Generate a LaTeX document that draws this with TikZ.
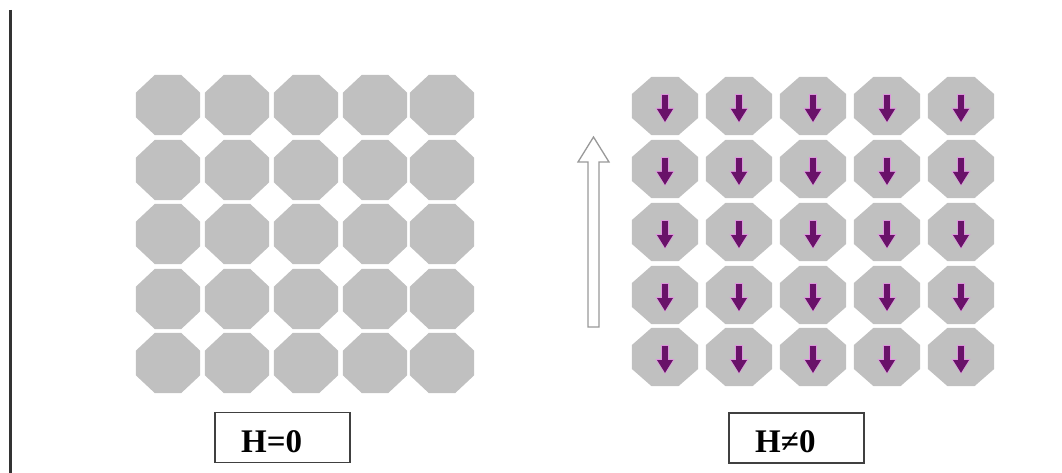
\documentclass[tikz,border=0pt]{standalone}
\usepackage{fontspec}
\setmainfont{Liberation Serif}
\usetikzlibrary{shapes.geometric,arrows.meta}
\definecolor{octgray}{RGB}{192,192,192}
\definecolor{spinpurple}{RGB}{105,18,105}
\definecolor{halocol}{RGB}{220,150,220}
\tikzset{
  oct/.style={regular polygon, regular polygon sides=8, fill=octgray, draw=none, inner sep=0pt,
    minimum size=65pt, xscale=1.067},
  octr/.style={regular polygon, regular polygon sides=8, fill=octgray, draw=none, inner sep=0pt,
    minimum size=62.8pt, xscale=1.14},
  spinglow/.style={line width=7.5pt, halocol, -{Triangle[width=18pt,length=15pt]}},
  spinline/.style={line width=5.5pt, spinpurple, -{Triangle[width=15pt,length=13pt]}},
  labbox/.style={draw=black!75, line width=1.3pt, minimum width=135pt, minimum height=50pt, inner sep=0pt},
  labtext/.style={font=\fontsize{33}{33}\selectfont\bfseries, inner sep=0pt, anchor=base west},
  bigarrow/.style={draw=black!40, line width=1.3pt, fill=white},
  frameline/.style={draw=black!80, line width=3pt}
}
\begin{document}
\begin{tikzpicture}[x=1pt,y=-1pt]
\useasboundingbox (0,0) rectangle (1062,473);
% left frame line
\coordinate (ft) at (10.5,10);
\coordinate (fb) at (10.5,473);
\draw[frameline] (ft) -- (fb);
% left grid (H=0)
\foreach \i/\x in {1/168,2/237,3/306,4/375,5/442}{
  \foreach \j/\y in {1/105,2/170,3/234,4/299,5/363}{
    \node[oct] (L-\i-\j) at (\x,\y) {};
  }
}
% right grid (H != 0)
\foreach \i/\x in {1/665,2/739,3/813,4/887,5/961}{
  \foreach \j/\y in {1/106,2/169,3/232,4/295,5/357}{
    \node[octr] (R-\i-\j) at (\x,\y) {};
    \draw[spinglow] ([yshift=12pt]R-\i-\j.center) -- ([yshift=-17pt]R-\i-\j.center);
    \draw[spinline] ([yshift=11pt]R-\i-\j.center) -- ([yshift=-16pt]R-\i-\j.center);
  }
}
% big hollow arrow (field)
\draw[bigarrow] (588,327) -- (588,162) -- (578,162) -- (593.5,137) -- (609,162) -- (599,162) -- (599,327) -- cycle;
% labels
\node[labbox] (b0) at (282.5,437.5) {};
\node[labtext] (t0) at (241,452) {H=0};
\node[labbox] (b1) at (796.5,438) {};
\node[labtext] (t1) at (755,452) {H≠0};
\end{tikzpicture}
\end{document}
